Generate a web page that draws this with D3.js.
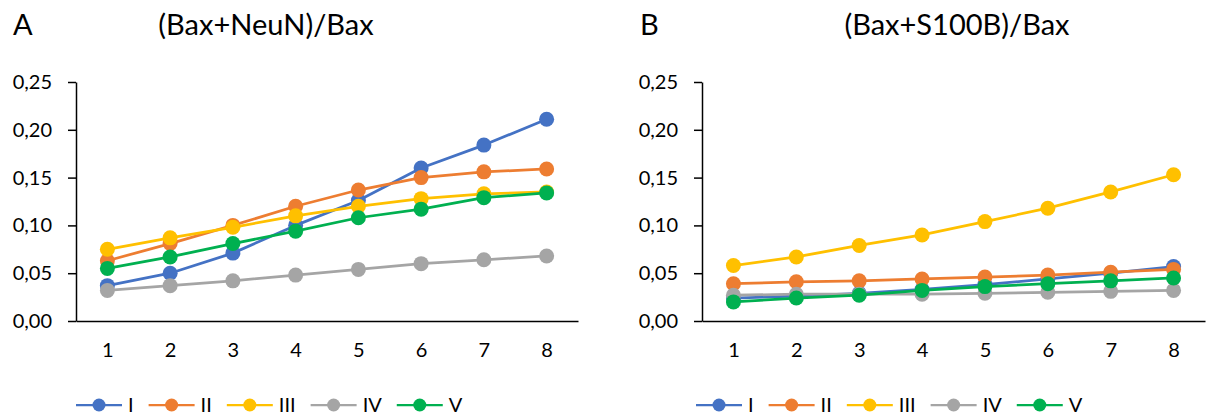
<!DOCTYPE html>
<html>
<head>
<meta charset="utf-8">
<script src="https://cdn.jsdelivr.net/npm/d3@7"></script>
<style>
  body { margin: 0; background: white; }
  svg { font-family: Lato, "Open Sans", sans-serif; }
</style>
</head>
<body>
<div id="chart"></div>
<script>
// DATA
const categories = [1, 2, 3, 4, 5, 6, 7, 8];
const seriesNames = ['I', 'II', 'III', 'IV', 'V'];
const seriesColors = ['#4472C4', '#ED7D31', '#FFC000', '#A5A5A5', '#00B050'];
const yTicks = [0, 0.05, 0.10, 0.15, 0.20, 0.25];

// (Bax+NeuN)/Bax
const neunI   = [0.037, 0.050, 0.071, 0.100, 0.126, 0.160, 0.184, 0.211];
const neunII  = [0.063, 0.081, 0.100, 0.120, 0.137, 0.150, 0.156, 0.159];
const neunIII = [0.075, 0.087, 0.098, 0.110, 0.120, 0.128, 0.133, 0.135];
const neunIV  = [0.032, 0.037, 0.042, 0.048, 0.054, 0.060, 0.064, 0.068];
const neunV   = [0.055, 0.067, 0.081, 0.094, 0.108, 0.117, 0.129, 0.134];

// (Bax+S100B)/Bax
const s100I   = [0.024, 0.026, 0.029, 0.033, 0.038, 0.044, 0.050, 0.057];
const s100II  = [0.039, 0.041, 0.042, 0.044, 0.046, 0.048, 0.051, 0.054];
const s100III = [0.058, 0.067, 0.079, 0.090, 0.104, 0.118, 0.135, 0.153];
const s100IV  = [0.027, 0.028, 0.028, 0.028, 0.029, 0.030, 0.031, 0.032];
const s100V   = [0.020, 0.024, 0.027, 0.032, 0.036, 0.039, 0.042, 0.045];

const width = 1209, height = 418;
const locale = d3.formatLocale({ decimal: ',', thousands: ' ', grouping: [3], currency: ['', ''] });
const fmt = locale.format('.2f');

const svg = d3.select('#chart').append('svg')
    .attr('width', width)
    .attr('height', height);

const panels = [
    { letter: 'A', letterX: 13, title: '(Bax+NeuN)/Bax', titleX: 266, x0: 76, x1: 578, legendX: 76,
      series: [neunI, neunII, neunIII, neunIV, neunV] },
    { letter: 'B', letterX: 640, title: '(Bax+S100B)/Bax', titleX: 957, x0: 702, x1: 1205, legendX: 696,
      series: [s100I, s100II, s100III, s100IV, s100V] }
];

const yTop = 82, yBot = 321;

panels.forEach(p => {
    const g = svg.append('g');

    // TITLES
    g.append('text')
        .attr('x', p.letterX).attr('y', 35)
        .style('font-size', '29px')
        .text(p.letter);
    g.append('text')
        .attr('x', p.titleX).attr('y', 35)
        .attr('text-anchor', 'middle')
        .style('font-size', '29px')
        .text(p.title);

    // SCALES
    const x = d3.scalePoint().domain(categories).range([p.x0, p.x1]).padding(0.5);
    const y = d3.scaleLinear().domain([0, 0.25]).range([yBot, yTop]);

    // Y AXIS
    const yAxis = g.append('g')
        .attr('transform', `translate(${p.x0},0)`)
        .call(d3.axisLeft(y).tickValues(yTicks).tickFormat(fmt).tickSizeInner(8).tickSizeOuter(0).tickPadding(16));
    yAxis.select('.domain').attr('stroke', '#000').attr('stroke-width', 1.5);
    yAxis.selectAll('.tick line').attr('stroke', '#000').attr('stroke-width', 1.5);
    yAxis.selectAll('.tick text')
        .style('font-size', '20px')
        .style('font-family', 'Lato, sans-serif')
        .attr('fill', '#000');

    // X AXIS
    const xAxis = g.append('g')
        .attr('transform', `translate(0,${yBot})`)
        .call(d3.axisBottom(x).tickSize(0).tickPadding(22));
    xAxis.select('.domain').attr('stroke', '#000').attr('stroke-width', 1.5);
    xAxis.selectAll('.tick text')
        .style('font-size', '20px')
        .style('font-family', 'Lato, sans-serif')
        .attr('fill', '#000');

    // LINES AND MARKERS
    const line = d3.line()
        .x((d, i) => x(categories[i]))
        .y(d => y(d));

    p.series.forEach((vals, si) => {
        const sg = g.append('g');
        sg.append('path')
            .datum(vals)
            .attr('d', line)
            .attr('fill', 'none')
            .attr('stroke', seriesColors[si])
            .attr('stroke-width', 2.75)
            .attr('stroke-linejoin', 'round');
        sg.selectAll('circle')
            .data(vals)
            .enter()
            .append('circle')
            .attr('cx', (d, i) => x(categories[i]))
            .attr('cy', d => y(d))
            .attr('r', 7.5)
            .attr('fill', seriesColors[si]);
    });

    // LEGEND
    let lx = p.legendX;
    const ly = 405;
    seriesNames.forEach((name, si) => {
        const lg = g.append('g');
        lg.append('line')
            .attr('x1', lx).attr('x2', lx + 46)
            .attr('y1', ly).attr('y2', ly)
            .attr('stroke', seriesColors[si])
            .attr('stroke-width', 2.25);
        lg.append('circle')
            .attr('cx', lx + 23).attr('cy', ly)
            .attr('r', 6.5)
            .attr('fill', seriesColors[si]);
        const t = lg.append('text')
            .attr('x', lx + 52).attr('y', ly + 7)
            .style('font-size', '20px')
            .text(name);
        lx = lx + 52 + t.node().getComputedTextLength() + 15;
    });
});
</script>
</body>
</html>
